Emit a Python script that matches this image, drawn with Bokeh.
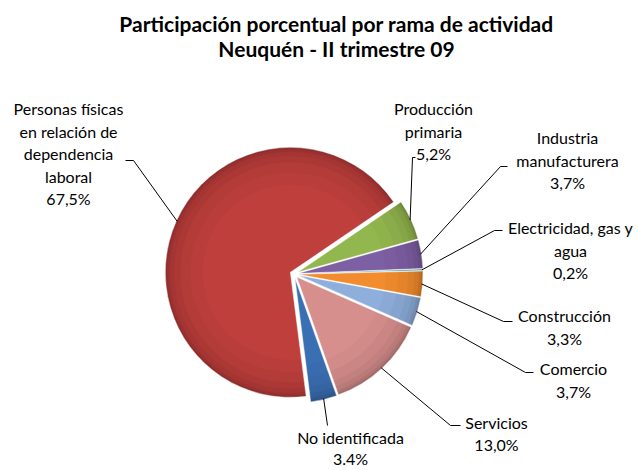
import math
from bokeh.plotting import figure
from bokeh.models import Range1d
from bokeh.embed import file_html
from bokeh.resources import INLINE
from bokeh.core.properties import value

# ---------------- data ----------------
categories = ["No identificada",
              "Personas físicas\nen relación de\ndependencia\nlaboral",
              "Producción\nprimaria",
              "Industria\nmanufacturera",
              "Electricidad, gas y\nagua",
              "Construcción",
              "Comercio",
              "Servicios"]
shares = [3.4, 67.5, 5.2, 3.7, 0.2, 3.3, 3.7, 13.0]
pct_labels = ["3.4%", "67,5%", "5,2%", "3,7%", "0,2%", "3,3%", "3,7%", "13,0%"]
colors = ["#3B6FB4", "#BE3F3C", "#93B74F", "#7D5FA3", "#3FA6C2", "#F28C2E", "#8EAEDB", "#D78F8D"]
title_lines = ["Participación porcentual por rama de actividad", "Neuquén - II trimestre 09"]

# ---------------- layout (screen px) ----------------
W, H = 638, 470
def Y(ys):  # screen y -> data y
    return H - ys

CX, CY = 293.5, 273.5
R = 125
EXPLODE = 4
START = -70.5  # math degrees, slices go clockwise

# label centre x, first line y, line spacing
label_pos = [(350, 437, 21), (68, 108, 22.5), (433, 108, 22.5), (567, 137, 22.5),
             (570, 227, 22.5), (564, 315, 22.5), (573, 368, 22.5), (496, 422, 21.5)]
# leader elbows (label side, screen px)
leader_pts = [[(327, 425)],
              [(125, 160), (133, 160)],
              [(415, 157), (412, 157)],
              [(507, 166), (500, 166)],
              [(502, 230), (494, 230)],
              [(512, 321), (503, 321)],
              [(533, 372), (525, 372)],
              [(460, 425), (450, 425)]]

p = figure(width=W, height=H, output_backend="svg", toolbar_location=None,
           x_range=Range1d(0, W), y_range=Range1d(0, H),
           min_border=0, background_fill_color="white", border_fill_color="white")
p.axis.visible = False
p.grid.visible = False
p.outline_line_color = None

total = sum(shares)
a = START
xs_l, ys_l = [], []
for i, s in enumerate(shares):
    span = 360.0 * s / total
    a0, a1 = a - span, a
    mid = math.radians((a0 + a1) / 2)
    cx = CX + EXPLODE * math.cos(mid)
    cy = Y(CY) + EXPLODE * math.sin(mid)
    sa, ea = math.radians(a0), math.radians(a1)
    p.wedge(x=[cx], y=[cy], radius=R, start_angle=sa, end_angle=ea,
            fill_color=colors[i], line_color=None)
    # bevel-like shading: gradual darkening towards the rim
    for frac, alpha in [(0.70, 0.025), (0.80, 0.03), (0.88, 0.035), (0.93, 0.045),
                        (0.965, 0.06), (0.985, 0.08)]:
        p.annular_wedge(x=[cx], y=[cy], inner_radius=R * frac, outer_radius=R,
                        start_angle=sa, end_angle=ea, fill_color="black",
                        fill_alpha=alpha, line_color=None)
    p.wedge(x=[cx], y=[cy], radius=R, start_angle=sa, end_angle=ea,
            fill_color=None, line_color="white", line_alpha=0.45, line_width=1)
    # leader end on slice rim
    ex = CX + (EXPLODE + R - 1) * math.cos(mid)
    ey = Y(CY) + (EXPLODE + R - 1) * math.sin(mid)
    pts = leader_pts[i]
    xs_l.append([q[0] for q in pts] + [ex])
    ys_l.append([Y(q[1]) for q in pts] + [ey])
    a = a0

p.multi_line(xs=xs_l, ys=ys_l, line_color="black", line_width=1)

# labels
tx, ty, tt = [], [], []
for i, name in enumerate(categories):
    lines = name.split("\n") + [pct_labels[i]]
    lx, ly, lh = label_pos[i]
    for k, ln in enumerate(lines):
        tx.append(lx)
        ty.append(Y(ly + k * lh))
        tt.append(ln)
p.text(x=tx, y=ty, text=tt, text_align="center", text_baseline="middle",
       text_font=value("Lato"), text_font_size="16px", text_color="black")

# title
p.text(x=[336, 336], y=[Y(23), Y(48)], text=title_lines, text_align="center",
       text_baseline="middle", text_font=value("Lato"), text_font_size="21px",
       text_font_style="bold", text_color="black")

open("out.html", "w").write(file_html(p, INLINE))
